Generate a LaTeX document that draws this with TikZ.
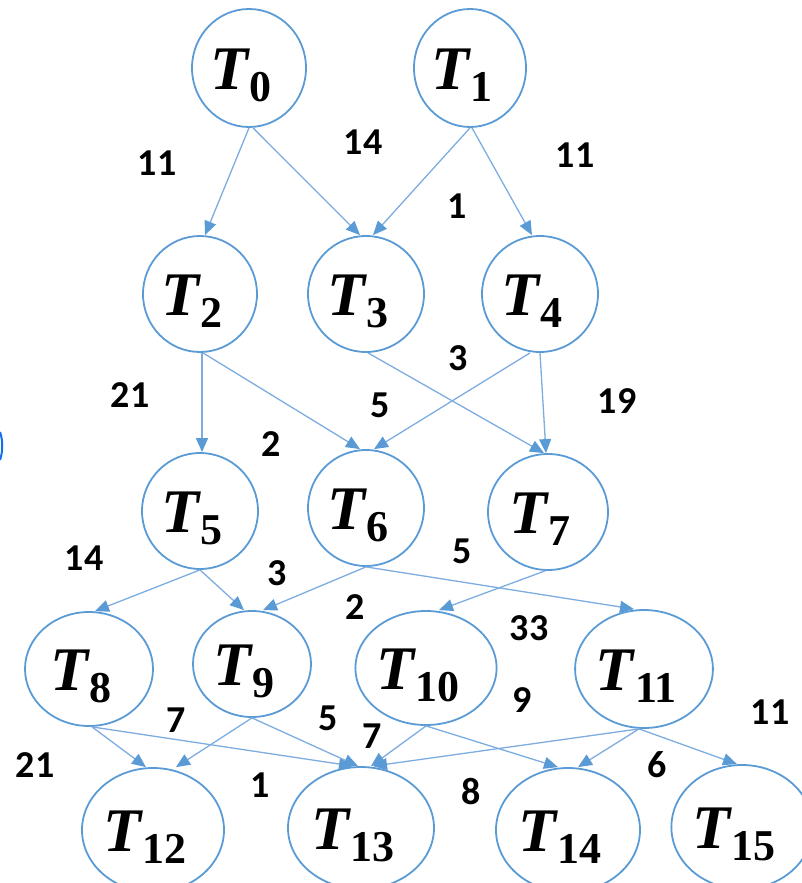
\documentclass[tikz,border=0pt]{standalone}
\usepackage{fontspec}
\usetikzlibrary{arrows.meta,shapes.geometric}
\newfontfamily\serifT{Liberation Serif}
\newfontfamily\numfont{Carlito}
\definecolor{nodeblue}{RGB}{91,155,213}
\definecolor{edgeblue}{RGB}{125,172,224}
\definecolor{specblue}{RGB}{20,110,240}
\newcommand{\Tn}[1]{\rule{0pt}{55pt}{\serifT\bfseries\itshape\fontsize{62}{66}\selectfont T}\hspace{2pt}\raisebox{-12pt}{\serifT\bfseries\fontsize{44}{48}\selectfont #1}\hspace*{16pt}}
\tikzset{
  task/.style 2 args={ellipse, draw=nodeblue, line width=1.8pt, inner sep=0pt,
    minimum width=#1, minimum height=#2},
  edge/.style={draw=edgeblue, line width=1.3pt, -{Triangle[length=14pt,width=12pt,color=nodeblue]}},
  wt/.style={font=\numfont\bfseries\fontsize{38}{42}\selectfont, inner sep=0pt, text=black}
}
\begin{document}
\begin{tikzpicture}[x=1pt,y=-1pt]
\useasboundingbox (0,0) rectangle (802,883);
\clip (0,0) rectangle (802,883);
% nodes
\node[task={114pt}{118pt}] (T0) at (249,68) {\Tn{0}};
\node[task={112pt}{118pt}] (T1) at (470,68) {\Tn{1}};
\node[task={114pt}{116pt}] (T2) at (200,294) {\Tn{2}};
\node[task={116pt}{116pt}] (T3) at (366,294) {\Tn{3}};
\node[task={116pt}{116pt}] (T4) at (540,294) {\Tn{4}};
\node[task={116pt}{116pt}] (T5) at (200,511) {\Tn{5}};
\node[task={116pt}{116pt}] (T6) at (366,508) {\Tn{6}};
\node[task={120pt}{116pt}] (T7) at (548,512) {\Tn{7}};
\node[task={128pt}{114pt}] (T8) at (89,669) {\Tn{8}};
\node[task={118pt}{106pt}] (T9) at (252,664) {\Tn{9}};
\node[task={130pt}{114pt}] (T10) at (426,668) {\Tn{10}};
\node[task={134pt}{118pt}] (T11) at (644,669) {\Tn{11}};
\node[task={142pt}{124pt}] (T12) at (153,830) {\Tn{12}};
\node[task={146pt}{122pt}] (T13) at (361,828) {\Tn{13}};
\node[task={144pt}{124pt}] (T14) at (568,830) {\Tn{14}};
\node[task={124pt}{124pt}] (T15) at (742,827) {\Tn{15}};
% edges
\draw[edge] (T0.south) -- ([xshift=5pt]T2.north);
\draw[edge] ([xshift=4pt]T0.south) -- ([xshift=-6pt]T3.north);
\draw[edge] (T1.south) -- ([xshift=7pt]T3.north);
\draw[edge] ([xshift=2pt]T1.south) -- ([xshift=-8pt]T4.north);
\draw[edge] ([xshift=2pt]T2.south) -- ([xshift=2pt]T5.north);
\draw[edge] ([xshift=3pt]T2.south) -- ([xshift=-6pt]T6.north);
\draw[edge] ([xshift=2pt]T3.south) -- ([xshift=-4pt]T7.north);
\draw[edge] ([xshift=-10pt]T4.south) -- ([xshift=8pt]T6.north);
\draw[edge] (T4.south) -- ([xshift=-2pt]T7.north);
\draw[edge] (T5.south) -- ([xshift=6pt]T8.north);
\draw[edge] (T5.south) -- ([xshift=-8pt]T9.north);
\draw[edge] (T6.south) -- ([xshift=11pt]T9.north);
\draw[edge] (T6.south) -- ([xshift=-10pt]T11.north);
\draw[edge] ([xshift=-3pt]T7.south) -- ([xshift=13pt]T10.north);
\draw[edge] ([xshift=3pt]T8.south) -- ([xshift=-7pt]T12.north);
\draw[edge] ([xshift=3pt]T8.south) -- ([xshift=-8pt]T13.north);
\draw[edge] (T9.south) -- ([xshift=23pt]T12.north);
\draw[edge] (T9.south) -- ([xshift=-3pt]T13.north);
\draw[edge] (T10.south) -- ([xshift=10pt]T13.north);
\draw[edge] (T10.south) -- ([xshift=-10pt]T14.north);
\draw[edge] ([xshift=-5pt]T11.south) -- ([xshift=12pt]T13.north);
\draw[edge] ([xshift=-5pt]T11.south) -- ([xshift=10pt]T14.north);
\draw[edge] ([xshift=-5pt]T11.south) -- ([xshift=-5pt]T15.north);
% weights
\node[wt] (w1) at (157,163) {11};
\node[wt] (w2) at (363,142) {14};
\node[wt] (w3) at (575,155) {11};
\node[wt] (w4) at (457,206) {1};
\node[wt] (w5) at (130,395) {21};
\node[wt] (w6) at (380,405) {5};
\node[wt] (w7) at (458,358) {3};
\node[wt] (w8) at (617,401) {19};
\node[wt] (w9) at (271,444) {2};
\node[wt] (w10) at (84,558) {14};
\node[wt] (w11) at (277,573) {3};
\node[wt] (w12) at (462,551) {5};
\node[wt] (w13) at (355,607) {2};
\node[wt] (w14) at (529,628) {33};
\node[wt] (w15) at (522,700) {9};
\node[wt] (w16) at (770,712) {11};
\node[wt] (w17) at (176,720) {7};
\node[wt] (w18) at (328,718) {5};
\node[wt] (w19) at (372,736) {7};
\node[wt] (w20) at (35,765) {21};
\node[wt] (w21) at (260,785) {1};
\node[wt] (w22) at (471,792) {8};
\node[wt] (w23) at (657,765) {6};
% small arc at the left edge
\draw[specblue, line width=2pt] (0,432) .. controls (3,440) and (3,452) .. (0,460);
\end{tikzpicture}
\end{document}
